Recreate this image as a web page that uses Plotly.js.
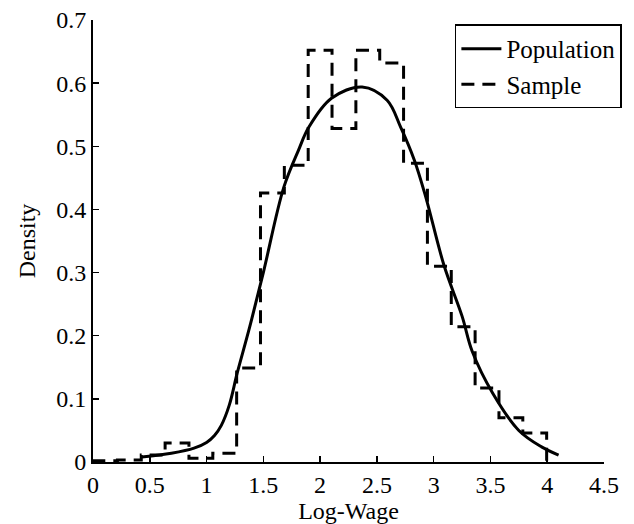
<!DOCTYPE html>
<html>
<head>
<meta charset="utf-8">
<script src="https://cdn.plot.ly/plotly-3.0.1.min.js"></script>
<style>html,body{margin:0;padding:0;background:#fff;}#chart{width:634px;height:524px;}</style>
</head>
<body>
<div id="chart"></div>
<script>
// Sample histogram: bin edges and densities
var binEdges = [0.005, 0.215, 0.425, 0.635, 0.845, 1.055, 1.265, 1.475, 1.685, 1.895, 2.105, 2.315, 2.525, 2.735, 2.945, 3.155, 3.365, 3.575, 3.785, 3.995];
var sampleDensity = [0.002, 0.003, 0.011, 0.030, 0.006, 0.014, 0.149, 0.426, 0.470, 0.652, 0.528, 0.652, 0.632, 0.473, 0.310, 0.214, 0.117, 0.070, 0.046];

// Population density curve
var popX = [0.43, 0.69, 0.89, 1.00, 1.07, 1.13, 1.20, 1.27, 1.38, 1.50, 1.68, 1.81, 1.90, 2.10, 2.37, 2.59, 2.71, 2.83, 2.93, 3.09, 3.25, 3.34, 3.52, 3.75, 3.95, 4.10];
var popY = [0.008, 0.014, 0.022, 0.031, 0.042, 0.058, 0.090, 0.141, 0.214, 0.300, 0.435, 0.494, 0.530, 0.576, 0.594, 0.573, 0.530, 0.478, 0.420, 0.312, 0.231, 0.175, 0.109, 0.050, 0.024, 0.011];

var xTicks = [0, 0.5, 1, 1.5, 2, 2.5, 3, 3.5, 4, 4.5];
var xTickText = ['0', '0.5', '1', '1.5', '2', '2.5', '3', '3.5', '4', '4.5'];
var yTicks = [0, 0.1, 0.2, 0.3, 0.4, 0.5, 0.6, 0.7];
var yTickText = ['0', '0.1', '0.2', '0.3', '0.4', '0.5', '0.6', '0.7'];

// build step outline of histogram
var stepX = [binEdges[0]].concat(binEdges);
var stepY = [0].concat(sampleDensity).concat([0]);

var FONT = '"Liberation Serif", "Times New Roman", serif';

var traces = [
  {
    x: popX, y: popY, type: 'scatter', mode: 'lines', name: 'Population',
    line: {color: '#000', width: 3, shape: 'spline', smoothing: 1}
  },
  {
    x: stepX, y: stepY, type: 'scatter', mode: 'lines', name: 'Sample',
    line: {color: '#000', width: 3, shape: 'hv', dash: '13px,8px'}
  }
];

var layout = {
  width: 634, height: 524,
  margin: {l: 93, r: 22, t: 20, b: 62},
  paper_bgcolor: '#fff', plot_bgcolor: '#fff',
  font: {family: FONT, size: 24, color: '#000'},
  showlegend: true,
  legend: {
    x: 1.035, xanchor: 'right', y: 0.99, yanchor: 'top',
    bordercolor: '#000', borderwidth: 1.5, bgcolor: '#fff',
    font: {family: FONT, size: 25, color: '#000'},
    itemwidth: 40,
    tracegroupgap: 0
  },
  xaxis: {
    range: [0, 4.5], tickvals: xTicks, ticktext: xTickText,
    showgrid: false, zeroline: false, showline: true, linecolor: '#000', linewidth: 2,
    ticks: 'inside', ticklen: 6, tickwidth: 1.5, tickcolor: '#000',
    title: {text: 'Log-Wage', font: {family: FONT, size: 24, color: '#000'}, standoff: 4},
    tickfont: {family: FONT, size: 24, color: '#000'}
  },
  yaxis: {
    range: [0, 0.7], tickvals: yTicks, ticktext: yTickText,
    showgrid: false, zeroline: false, showline: true, linecolor: '#000', linewidth: 2,
    ticks: 'inside', ticklen: 6, tickwidth: 1.5, tickcolor: '#000',
    title: {text: 'Density', font: {family: FONT, size: 24, color: '#000'}, standoff: 14},
    tickfont: {family: FONT, size: 24, color: '#000'}
  }
};

Plotly.newPlot('chart', traces, layout, {displayModeBar: false, staticPlot: true});
</script>
</body>
</html>
